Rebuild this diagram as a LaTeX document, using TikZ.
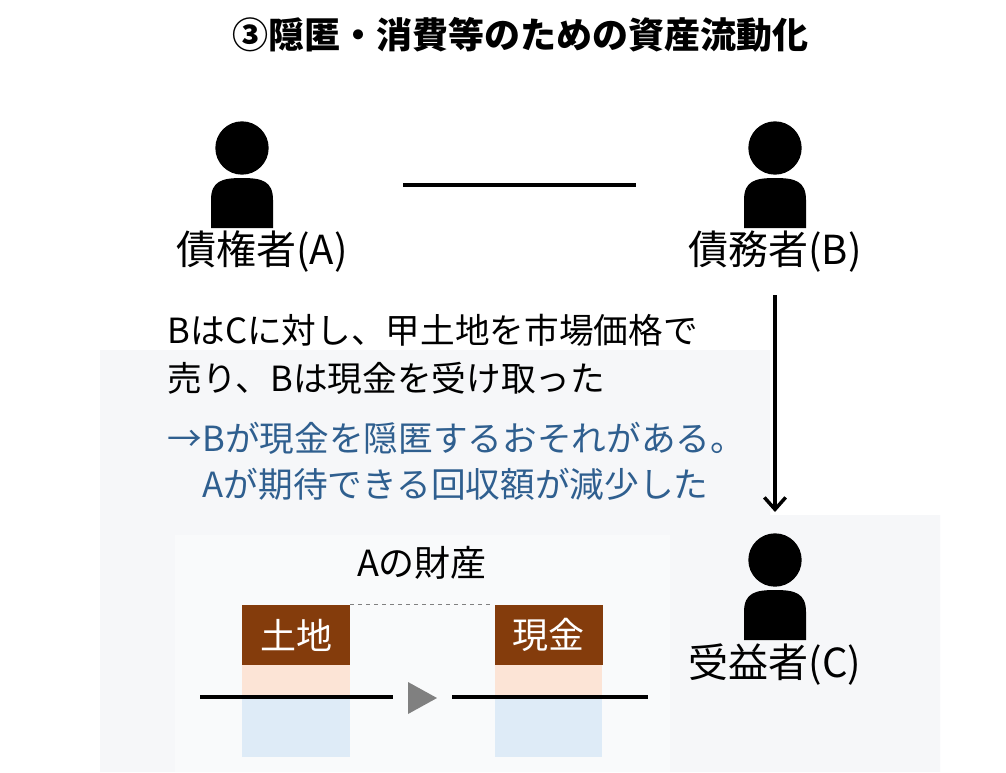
\documentclass[tikz,border=0pt]{standalone}
\usepackage{fontspec}
\setmainfont{Noto Sans CJK JP}
\usetikzlibrary{positioning,calc,arrows.meta}
\definecolor{pagegray}{HTML}{F6F7F9}
\definecolor{innergray}{HTML}{F9FAFB}
\definecolor{landbrown}{HTML}{843C0C}
\definecolor{peach}{HTML}{FCE4D6}
\definecolor{paleblue}{HTML}{DEEBF7}
\definecolor{noteblue}{HTML}{2F5F8F}
\tikzset{
  lbl/.style={font=\fontsize{30}{34}\selectfont},
  txt/.style={font=\fontsize{26}{30}\selectfont,anchor=west},
  asset/.style={fill=landbrown,text=white,minimum width=81pt,minimum height=45pt,inner sep=0pt,font=\fontsize{27}{30}\selectfont},
  rel/.style={line width=2.6pt},
}
\newcommand\person[2]{%
  \fill (#1,#2) circle (20pt);
  \fill ($(#1,#2)+(-31,80)$) -- ($(#1,#2)+(-31,52)$) .. controls ($(#1,#2)+(-31,33)$) and ($(#1,#2)+(-20,30)$) .. ($(#1,#2)+(0,30)$)
    .. controls ($(#1,#2)+(20,30)$) and ($(#1,#2)+(31,33)$) .. ($(#1,#2)+(31,52)$) -- ($(#1,#2)+(31,80)$) -- cycle;
}
\begin{document}
\begin{tikzpicture}[x=0.75pt,y=-0.75pt]
\useasboundingbox (0,0) rectangle (1006,772);
\fill[white] (0,0) rectangle (1006,772);
% background panels
\fill[pagegray] (100,350) -- (770,350) -- (770,515) -- (940,515) -- (940,772) -- (100,772) -- cycle;
\fill[innergray] (175,535) rectangle (670,772);

\node[font=\bfseries\fontsize{27}{30}\selectfont] (title) at (520,35) {③隠匿・消費等のための資産流動化};

% persons
\person{242}{148}
\person{775}{148}
\person{775}{560}
\node[lbl] (A) at (262,252) {債権者(A)};
\node[lbl] (B) at (775,252) {債務者(B)};
\node[lbl] (C) at (775,665) {受益者(C)};
\coordinate (ab1) at (403,185);
\coordinate (ab2) at (636,185);
\draw[rel] (ab1) -- (ab2);
\coordinate (b0) at (775,295);
\coordinate (c0) at (775,512);
\draw[rel,-{Straight Barb[length=9pt,width=16pt]}] (b0) -- (c0);

% notes
\node[txt] (n1) at (163,330) {BはCに対し、甲土地を市場価格で};
\node[txt] (n2) at (163,378) {売り、Bは現金を受け取った};
\node[txt,text=noteblue] (n3) at (163,438) {→Bが現金を隠匿するおそれがある。};
\node[txt,text=noteblue] (n4) at (198,484) {Aが期待できる回収額が減少した};

% assets
\node[font=\fontsize{27}{30}\selectfont] (prop) at (422,563) {Aの財産};
\fill[peach] (242,665) rectangle (350,697);
\fill[paleblue] (242,697) rectangle (350,757);
\fill[peach] (495,665) rectangle (602,697);
\fill[paleblue] (495,697) rectangle (602,757);
\node[asset] (land) at (296,635) {土地};
\node[asset] (cash) at (548.5,635) {現金};
\draw[gray,dashed,line width=1pt] (land.north east) -- (cash.north west);
\draw[rel] (200,697) -- (393,697);
\draw[rel] (452,697) -- (648,697);
\fill[gray] (408,682) -- (437,698) -- (408,714) -- cycle;
\end{tikzpicture}
\end{document}
